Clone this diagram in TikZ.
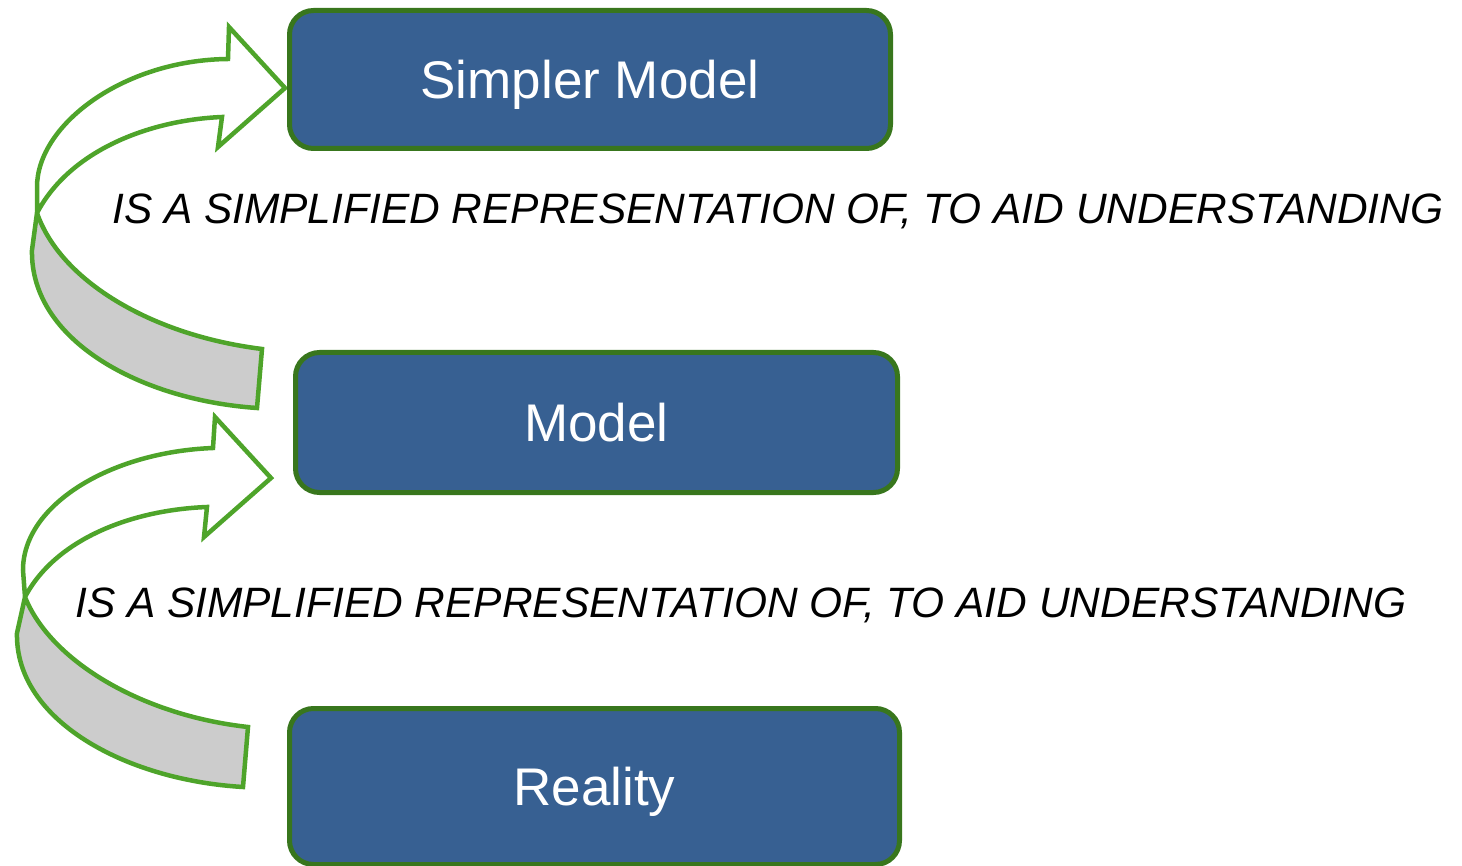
\documentclass[tikz,border=0pt]{standalone}
\usepackage{fontspec}
\setmainfont{Liberation Sans}
\usepackage{tikz}
\usetikzlibrary{
  calc,%
  positioning
}
\definecolor{boxblue}{RGB}{55,96,146}
\definecolor{boxgreen}{RGB}{56,118,29}
\definecolor{arrowgreen}{RGB}{78,164,42}
\definecolor{backgray}{RGB}{204,204,204}
\tikzset{>=latex}
\tikzset{modelbox/.style={draw=boxgreen, line width=5pt, fill=boxblue,
    rounded corners=24pt, text=white, inner sep=0pt,
    font=\fontsize{53}{60}\selectfont, text height=38pt, text depth=0pt}}
\tikzset{relabel/.style={anchor=base west, inner sep=0pt,
    font=\fontsize{42.45}{50}\selectfont\itshape}}
\tikzset{bentarrow/.style={draw=arrowgreen, line width=4.5pt},
  bentback/.style={fill=backgray}}

\begin{document}
\begin{tikzpicture}[x=1pt,y=-1pt]
          \useasboundingbox (0,0) rectangle (1462,866);
          % upper bent arrow: underside first, then the outline
          \fill[bentback] (37,213) -- (32,250) .. controls (30,340) and (140,400) .. (257,408)
            -- (262,349) .. controls (150,335) and (60,280) .. (37,213) -- cycle;
          \draw[bentarrow] (228,59) .. controls (123,60) and (37,125) .. (37,187) -- (37,213)
            -- (32,250) .. controls (30,340) and (140,400) .. (257,408) -- (262,349)
            .. controls (150,335) and (60,280) .. (37,213)
            .. controls (70,150) and (150,120) .. (222,117)
            -- (218,147) -- (285,88) -- (229,27) -- cycle;
          % lower bent arrow
          \fill[bentback] (25,597) -- (17,633) .. controls (15,720) and (125,780) .. (243,787)
            -- (248,727) .. controls (140,715) and (50,660) .. (25,597) -- cycle;
          \draw[bentarrow] (213,448) .. controls (110,452) and (23,505) .. (23,570) -- (25,597)
            -- (17,633) .. controls (15,720) and (125,780) .. (243,787) -- (248,727)
            .. controls (140,715) and (50,660) .. (25,597)
            .. controls (55,540) and (130,510) .. (207,507)
            -- (204,537) -- (271,478) -- (215,417) -- cycle;
          % the three boxes
          \node[modelbox, minimum width=601pt, minimum height=138pt] (simpler) at (590,79.5) {Simpler Model};
          \node[modelbox, minimum width=602pt, minimum height=140pt] (model) at (596.5,422.5) {Model};
          \node[modelbox, minimum width=610pt, minimum height=156pt] (reality) at (594.5,786.5) {Reality};
          % relation labels
          \node[relabel] (toplbl) at (112,224) {IS A SIMPLIFIED REPRESENTATION OF, TO AID UNDERSTANDING};
          \node[relabel] (botlbl) at (75,617) {IS A SIMPLIFIED REPRESENTATION OF, TO AID UNDERSTANDING};
        \end{tikzpicture}
\end{document}
